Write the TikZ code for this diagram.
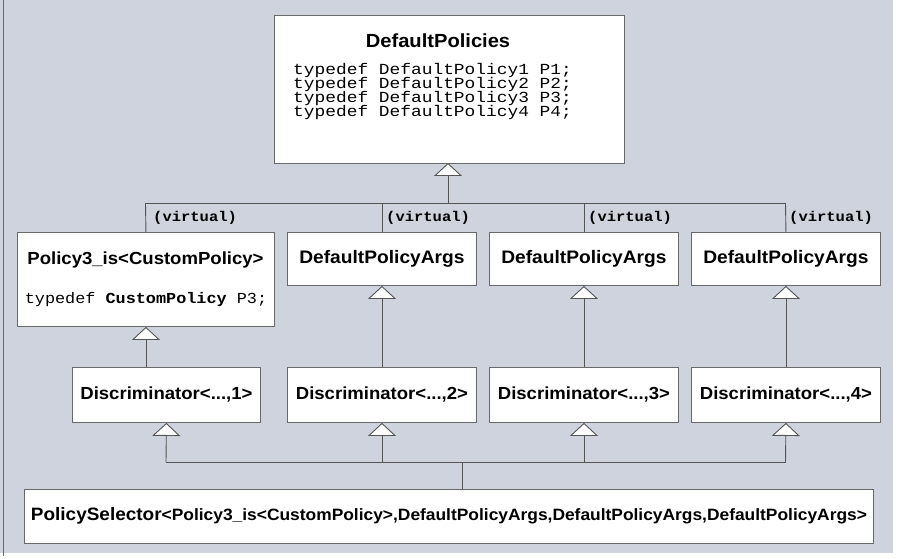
\documentclass[tikz,border=0pt]{standalone}
\usepackage{fontspec}
\setmainfont{Liberation Sans}[FakeStretch=1.06]
\newfontfamily\monow{Liberation Mono}[FakeStretch=1.1]
\newfontfamily\monoww{Liberation Mono}[FakeStretch=1.16]
\usetikzlibrary{arrows.meta}
\definecolor{bgc}{RGB}{206,211,221}
\definecolor{edgec}{RGB}{105,105,105}
\definecolor{lnc}{RGB}{85,85,85}
\newcommand\ttl[1]{\fontsize{#1}{22}\selectfont\bfseries}
\begin{document}
\begin{tikzpicture}[x=1pt,y=-1pt,
  box/.style={draw=edgec,fill=white,line width=0.9pt,rectangle,inner sep=0pt,anchor=north west},
  conn/.style={draw=lnc,line width=0.9pt},
  inh/.style={conn,-{Triangle[width=28pt,length=13pt,fill=white]}},
  codeline/.style={anchor=base west,inner sep=0pt,text height=10pt,text depth=2pt,font=\monoww\fontsize{15.4}{16}\selectfont},
  virt/.style={anchor=west,inner sep=0pt,font=\monow\bfseries\fontsize{14.1}{16}\selectfont}]
\useasboundingbox (0,0) rectangle (900,559);
\fill[bgc] (0,0) rectangle (893,553);
\draw[edgec,line width=0.8pt] (3,0) -- (3,556);

% top class
\node[box,minimum width=350,minimum height=148] (dp) at (274,15) {};
\node[anchor=base,inner sep=0pt,font=\ttl{19}] (dpt) at (438,47.5) {DefaultPolicies};
\node[codeline] (dl1) at (293,75) {typedef DefaultPolicy1 P1;};
\node[codeline] (dl2) at (293,88.7) {typedef DefaultPolicy2 P2;};
\node[codeline] (dl3) at (293,102.4) {typedef DefaultPolicy3 P3;};
\node[codeline] (dl4) at (293,116.1) {typedef DefaultPolicy4 P4;};

% second row
\node[box,minimum width=257,minimum height=94] (p3) at (17,232) {};
\node[anchor=base,inner sep=0pt,font=\ttl{17.5}] (p3t) at (145.5,264.5) {Policy3\_is<CustomPolicy>};
\node[anchor=base,inner sep=0pt,font=\monow\fontsize{15.3}{18}\selectfont] (p3l) at (146,303.5) {typedef \textbf{CustomPolicy} P3;};
\node[box,minimum width=189,minimum height=53,font=\ttl{18.1}] (a2) at (287,232) {DefaultPolicyArgs};
\node[box,minimum width=189,minimum height=53,font=\ttl{18.1}] (a3) at (489,232) {DefaultPolicyArgs};
\node[box,minimum width=189,minimum height=53,font=\ttl{18.1}] (a4) at (691,232) {DefaultPolicyArgs};

% discriminators
\node[box,minimum width=188,minimum height=55,font=\ttl{17.5}] (d1) at (72,367) {Discriminator<...,1>};
\node[box,minimum width=189,minimum height=55,font=\ttl{17.5}] (d2) at (287,367) {Discriminator<...,2>};
\node[box,minimum width=189,minimum height=55,font=\ttl{17.5}] (d3) at (489,367) {Discriminator<...,3>};
\node[box,minimum width=189,minimum height=55,font=\ttl{17.5}] (d4) at (691,367) {Discriminator<...,4>};

% selector
\node[box,minimum width=849,minimum height=54] (ps) at (24,489)
  {\raisebox{4pt}{{\ttl{17.9}PolicySelector}{\ttl{16.4}<Policy3\_is<CustomPolicy>,DefaultPolicyArgs,DefaultPolicyArgs,DefaultPolicyArgs>}}};

% upper bus (virtual inheritance)
\coordinate (tbL) at (145.5,203);
\coordinate (tbR) at (785.5,203);
\draw[conn] (tbL) -- (tbR);
\draw[conn] (tbL) -- (p3.north);
\draw[conn] (a2.north |- tbL) -- (a2.north);
\draw[conn] (a3.north |- tbL) -- (a3.north);
\draw[conn] (tbR) -- (a4.north);
\draw[inh] (448,203) -- (448,163);
\node[virt] (v1) at (153,218) {(virtual)};
\node[virt] (v2) at (386,218) {(virtual)};
\node[virt] (v3) at (588,218) {(virtual)};
\node[virt] (v4) at (789,218) {(virtual)};

% discriminator -> policy
\draw[inh] (p3.south |- d1.north) -- (p3.south);
\draw[inh] (d2.north) -- (a2.south);
\draw[inh] (d3.north) -- (a3.south);
\draw[inh] (d4.north) -- (a4.south);

% lower bus
\coordinate (bbL) at (166,462);
\coordinate (bbR) at (785.5,462);
\coordinate (pj) at (462,462);
\draw[conn] (bbL) -- (bbR);
\draw[conn] (pj) -- (pj |- ps.north);
\draw[inh] (bbL) -- (d1.south);
\draw[inh] (d2.south |- bbL) -- (d2.south);
\draw[inh] (d3.south |- bbL) -- (d3.south);
\draw[inh] (bbR) -- (d4.south);
\end{tikzpicture}
\end{document}
